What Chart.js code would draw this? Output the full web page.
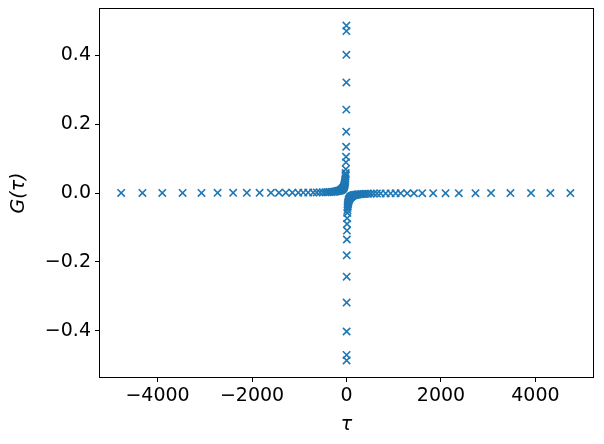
<!DOCTYPE html>
<html>
<head>
<meta charset="utf-8">
<script src="https://cdn.jsdelivr.net/npm/chart.js@4/dist/chart.umd.min.js"></script>
<style>
  html, body { margin: 0; padding: 0; background: #ffffff; }
  .chart-container { width: 604px; height: 444px; }
</style>
</head>
<body>
<div class="chart-container">
  <canvas id="gChart" width="604" height="444"></canvas>
</div>
<script>
// tau values (left arm, centre, right arm)
const tauValues = [
  -4770, -4320, -3900, -3470, -3070, -2730, -2400, -2110, -1840, -1600,
  -1430, -1285, -1146, -1020, -915, -810, -705, -630, -562, -502,
  -448, -400, -357, -319, -285, -254, -227, -203, -181, -162,
  -144, -129, -115, -103, -92, -82, -73, -65, -58, -52,
  -46, -41, -37, -33, -29, -26, -23, -20.5, -18.5, -17,
  -14.5, -11.2, -9.5, -7.5, -5.6, -4.1, -3.1, -2.5, -2.1, -2.05,
  2.05, 2.1, 2.5, 3.1, 4.1, 5.5, 7.4, 9.2, 11.1, 13.7, 17.2,
  20, 23, 26, 29, 33, 37, 42, 47, 53, 60,
  67, 75, 84, 94, 104, 116, 130, 146, 163, 183,
  205, 230, 258, 290, 325, 364, 408, 457, 512, 575,
  645, 723, 829, 934, 1040, 1146, 1285, 1427, 1603, 1835,
  2097, 2378, 2731, 3061, 3471, 3907, 4317, 4740
];

// G(tau) for each tau above
const gValues = [
  0.0002, 0.0002, 0.0003, 0.0003, 0.0003, 0.0004, 0.0004, 0.0005, 0.0005, 0.0006,
  0.0007, 0.0008, 0.0009, 0.001, 0.0011, 0.0012, 0.0014, 0.0016, 0.0018, 0.002,
  0.0022, 0.0025, 0.0028, 0.0031, 0.0035, 0.0039, 0.0044, 0.0049, 0.0055, 0.0062,
  0.0069, 0.0078, 0.0087, 0.0097, 0.011, 0.012, 0.014, 0.015, 0.017, 0.019,
  0.022, 0.024, 0.027, 0.030, 0.034, 0.038, 0.043, 0.049, 0.054, 0.058,
  0.069, 0.089, 0.105, 0.134, 0.178, 0.242, 0.321, 0.401, 0.470, 0.486,
  -0.486, -0.470, -0.402, -0.318, -0.243, -0.181, -0.135, -0.109, -0.090, -0.073, -0.058,
  -0.050, -0.043, -0.038, -0.034, -0.030, -0.027, -0.024, -0.021, -0.019, -0.017,
  -0.015, -0.013, -0.012, -0.011, -0.0096, -0.0086, -0.0077, -0.0068, -0.0061, -0.0055,
  -0.0049, -0.0043, -0.0039, -0.0034, -0.0031, -0.0027, -0.0025, -0.0022, -0.002, -0.0017,
  -0.0016, -0.0014, -0.0012, -0.0011, -0.001, -0.0009, -0.0008, -0.0007, -0.0006, -0.0005,
  -0.0005, -0.0004, -0.0004, -0.0003, -0.0003, -0.0003, -0.0002, -0.0002
];

const xTicks = [-4000, -2000, 0, 2000, 4000];
const yTicks = [-0.4, -0.2, 0.0, 0.2, 0.4];

const FONT = "'DejaVu Sans', sans-serif";

// matplotlib style minus sign
function withMinus(text) {
  return String(text).replace('-', '\u2212');
}

// draw the box round the plot, like matplotlib spines
const frame = {
  id: 'frame',
  afterDraw(chart) {
    const a = chart.chartArea;
    const ctx = chart.ctx;
    ctx.save();
    ctx.strokeStyle = '#000000';
    ctx.lineWidth = 1;
    ctx.strokeRect(a.left + 0.5, a.top + 0.5, a.right - a.left - 1, a.bottom - a.top - 1);
    ctx.restore();
  }
};

const points = tauValues.map((t, i) => ({ x: t, y: gValues[i] }));

const ctx = document.getElementById('gChart').getContext('2d');

const myChart = new Chart(ctx, {
  type: 'scatter',
  data: {
    datasets: [{
      data: points,
      pointStyle: 'crossRot',
      pointRadius: 5.2,
      pointBorderWidth: 1.6,
      borderColor: '#1f77b4',
      backgroundColor: '#1f77b4'
    }]
  },
  options: {
    responsive: false,
    animation: false,
    layout: { autoPadding: false, padding: { left: 0, right: 10, top: 8, bottom: 0 } },
    plugins: {
      legend: { display: false },
      tooltip: { enabled: false }
    },
    scales: {
      x: {
        type: 'linear',
        min: -5240,
        max: 5240,
        afterBuildTicks: scale => { scale.ticks = xTicks.map(v => ({ value: v })); },
        afterFit: scale => {
          scale.height = 66;
          scale.paddingLeft = 0;
          scale.paddingRight = 0;
        },
        ticks: {
          color: '#000000',
          font: { family: FONT, size: 19 },
          padding: 3,
          maxRotation: 0,
          callback: v => withMinus(v)
        },
        grid: { display: true, drawOnChartArea: false, drawTicks: true, tickLength: 4, color: '#000000' },
        border: { display: false },
        title: {
          display: true,
          text: '\u03c4',
          color: '#000000',
          font: { family: FONT, size: 19, style: 'italic' },
          padding: { top: 0, bottom: 8 }
        }
      },
      y: {
        type: 'linear',
        min: -0.537,
        max: 0.537,
        afterBuildTicks: scale => { scale.ticks = yTicks.map(v => ({ value: v })); },
        afterFit: scale => {
          scale.width = 99;
          scale.paddingTop = 0;
          scale.paddingBottom = 0;
        },
        ticks: {
          color: '#000000',
          font: { family: FONT, size: 19 },
          padding: 4,
          callback: v => withMinus(v.toFixed(1))
        },
        grid: { display: true, drawOnChartArea: false, drawTicks: true, tickLength: 4, color: '#000000' },
        border: { display: false },
        title: {
          display: true,
          text: 'G(\u03c4)',
          color: '#000000',
          font: { family: FONT, size: 19, style: 'italic' },
          padding: { top: 8, bottom: 0 }
        }
      }
    }
  },
  plugins: [frame]
});
</script>
</body>
</html>
